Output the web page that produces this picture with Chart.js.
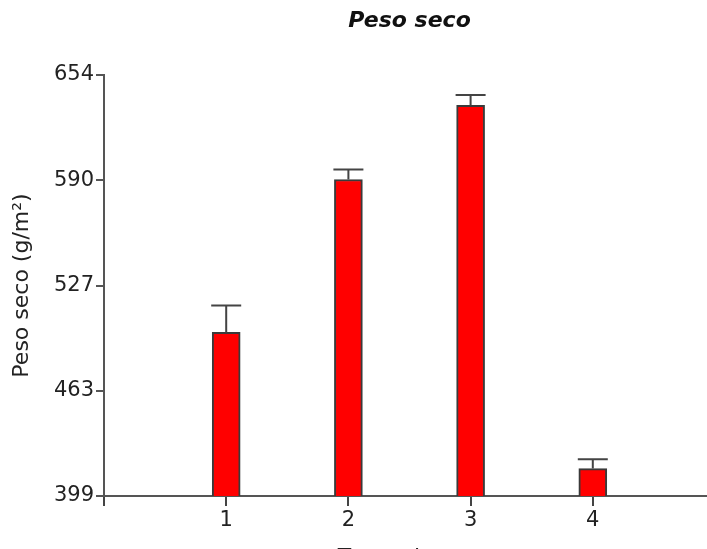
<!DOCTYPE html>
<html>
<head>
<meta charset="utf-8">
<script src="https://cdn.jsdelivr.net/npm/chart.js@4.4.0/dist/chart.umd.min.js"></script>
<style>
  html, body { margin: 0; padding: 0; background: #fff; overflow: hidden; }
  #wrap { width: 707px; height: 549px; overflow: hidden; }
</style>
</head>
<body>
<div id="wrap"><canvas id="grafico" width="716" height="580"></canvas></div>
<script>
// datos
const tratamientos = ['1', '2', '3', '4'];
const pesoSeco = [498.1, 590.7, 635.6, 415.6];
const errorPeso = [16.3, 6.1, 6.3, 5.7];
const yTicks = [399, 462.75, 526.5, 590.25, 654];
const yTickLabels = ['399', '463', '527', '590', '654'];

const fuente = 'DejaVu Sans';

// barras de error (linea + tope)
const barrasError = {
    id: 'barrasError',
    afterDatasetsDraw(chart) {
        const ctx = chart.ctx;
        const escalaY = chart.scales.y;
        const meta = chart.getDatasetMeta(0);
        ctx.save();
        ctx.strokeStyle = '#444';
        ctx.lineWidth = 2;
        meta.data.forEach((barra, i) => {
            const tope = escalaY.getPixelForValue(pesoSeco[i] + errorPeso[i]);
            const mitad = barra.width / 2 + 1;
            ctx.beginPath();
            ctx.moveTo(barra.x, barra.y);
            ctx.lineTo(barra.x, tope);
            ctx.moveTo(barra.x - mitad, tope);
            ctx.lineTo(barra.x + mitad, tope);
            ctx.stroke();
        });
        ctx.restore();
    }
};

const ctx = document.getElementById('grafico').getContext('2d');
new Chart(ctx, {
    type: 'bar',
    data: {
        datasets: [{
            data: tratamientos.map((t, i) => ({ x: Number(t), y: pesoSeco[i] })),
            backgroundColor: '#ff0000',
            borderColor: '#3a3a3a',
            borderWidth: 2,
            barThickness: 28
        }]
    },
    options: {
        responsive: false,
        animation: false,
        layout: { padding: { left: 0, right: 1, top: 0, bottom: 0 } },
        plugins: {
            legend: { display: false },
            tooltip: { enabled: false },
            title: {
                display: true,
                text: 'Peso seco',
                fullSize: false,
                color: '#111',
                font: { family: fuente, size: 22, weight: 'bold', style: 'italic' },
                padding: { top: 8, bottom: 40.6 }
            }
        },
        scales: {
            x: {
                type: 'linear',
                min: 0,
                max: 5,
                offset: false,
                afterBuildTicks: scale => {
                    scale.ticks = [0].concat(tratamientos.map(Number)).map(v => ({ value: v }));
                },
                afterFit: scale => { scale.height = 84; },
                ticks: {
                    autoSkip: false,
                    color: '#222',
                    font: { family: fuente, size: 21 },
                    padding: 2,
                    callback: v => tratamientos[v - 1] || ''
                },
                grid: { offset: false, drawOnChartArea: false, drawTicks: true, tickLength: 10, color: '#444', lineWidth: 2 },
                border: { display: true, color: '#555', width: 2 },
                title: {
                    display: true,
                    text: 'Tratamientos',
                    color: '#222',
                    font: { family: fuente, size: 22 },
                    padding: { top: 0, bottom: 9 }
                }
            },
            y: {
                min: 399,
                max: 654,
                afterBuildTicks: scale => {
                    scale.ticks = yTicks.map(v => ({ value: v }));
                },
                afterFit: scale => { scale.width = 104; },
                ticks: {
                    color: '#222',
                    font: { family: fuente, size: 21 },
                    padding: 2,
                    callback: (v, i) => yTickLabels[i]
                },
                grid: { drawOnChartArea: false, drawTicks: true, tickLength: 8, color: '#555', lineWidth: 2 },
                border: { display: true, color: '#555', width: 2 },
                title: {
                    display: true,
                    text: 'Peso seco (g/m²)',
                    color: '#222',
                    font: { family: fuente, size: 22 },
                    padding: { top: 9, bottom: 0 }
                }
            }
        }
    },
    plugins: [barrasError]
});
</script>
</body>
</html>
